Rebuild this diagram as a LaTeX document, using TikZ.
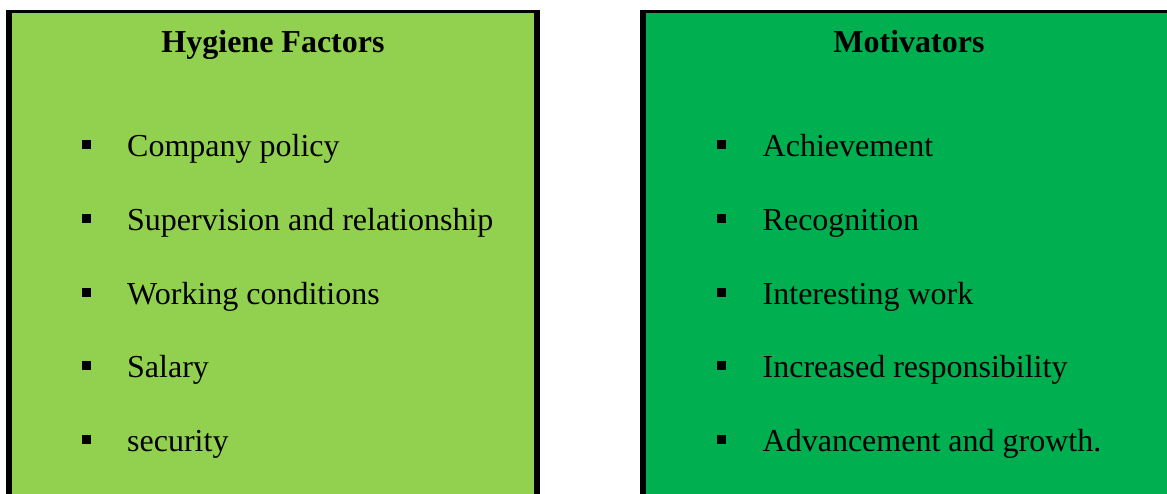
\documentclass[tikz,border=0pt]{standalone}
\usepackage{fontspec}
\setmainfont{Liberation Serif}
\usepackage{tikz}
\definecolor{hygienegreen}{HTML}{92D050}
\definecolor{motivgreen}{HTML}{00B050}

\begin{document}
\begin{tikzpicture}[x=1pt, y=-1pt]
\tikzset{item/.style={anchor=base west, inner sep=0pt, font=\fontsize{32}{38}\selectfont}}
\tikzset{heading/.style={anchor=base, inner sep=0pt, font=\fontsize{32}{38}\selectfont\bfseries}}
\tikzset{bulletbox/.style={fill=black, minimum size=9pt, inner sep=0pt}}

\useasboundingbox (0,0) rectangle (1167,493);
\clip (0,0) rectangle (1167,493);

% the two panels, drawn as border plus fill
\fill[black] (6,10) rectangle (540,500);
\fill[hygienegreen] (12,13) rectangle (534,500);
\fill[black] (640,10) rectangle (1180,500);
\fill[motivgreen] (646,13) rectangle (1180,500);

\node[heading] (hyg) at (273,52) {Hygiene Factors};
\node[heading] (mot) at (909,52) {Motivators};

\foreach \t [count=\i] in {Company policy, Supervision and relationship, Working conditions, Salary, security}{
  \node[bulletbox] (hb\i) at (86.5,156.5+73.75*\i-73.75-12) {};
  \node[item] (ht\i) at (127,156.5+73.75*\i-73.75) {\t};
}

\foreach \t [count=\i] in {Achievement, Recognition, Interesting work, Increased responsibility, Advancement and growth.}{
  \node[bulletbox] (mb\i) at (721,156.5+73.75*\i-73.75-12) {};
  \node[item] (mt\i) at (762.5,156.5+73.75*\i-73.75) {\t};
}

\end{tikzpicture}
\end{document}
